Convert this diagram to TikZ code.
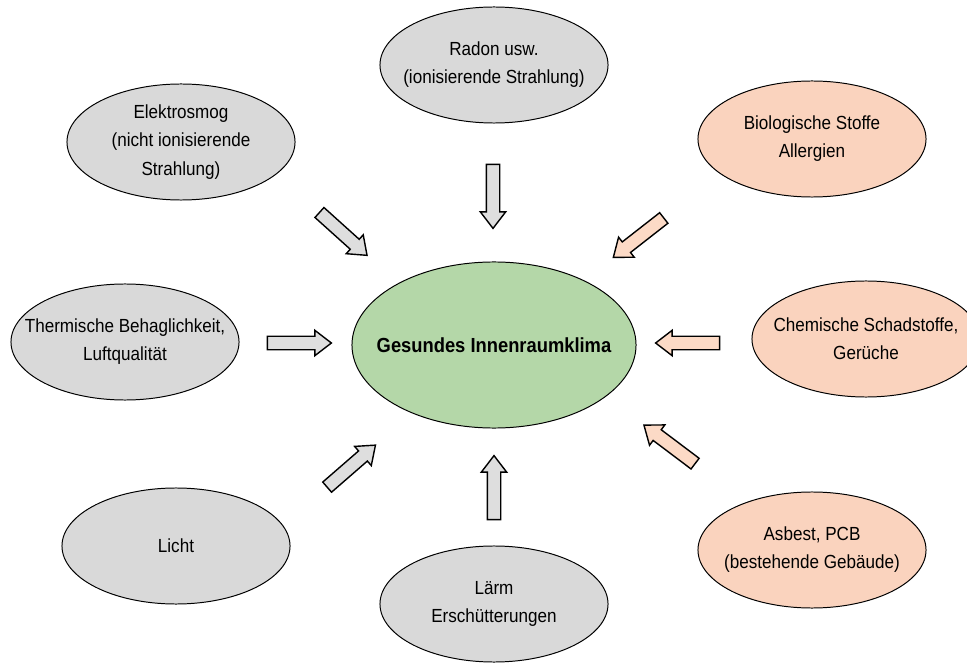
\documentclass[tikz,border=0pt]{standalone}
\usepackage{fontspec}
\setmainfont{Liberation Sans}[FakeStretch=0.9]
\usetikzlibrary{shapes.geometric, shapes.arrows}

\definecolor{grau}{HTML}{D9D9D9}
\definecolor{graupfeil}{HTML}{DEDEDE}
\definecolor{lachs}{HTML}{FAD3BE}
\definecolor{lachspfeil}{HTML}{FCDAC6}
\definecolor{gruen}{HTML}{B4D7A8}

\tikzset{
  einfluss/.style={ellipse, draw, line width=0.7pt, inner sep=-1cm,
    minimum width=5.7cm, minimum height=2.9cm, align=center,
    font=\fontsize{13.5}{20}\selectfont},
  grauoval/.style={einfluss, fill=grau},
  lachsoval/.style={einfluss, fill=lachs},
  blockpfeil/.style={single arrow, draw, line width=1pt, inner sep=0.15cm,
    minimum height=1.6cm, single arrow head extend=0.15cm,
    single arrow tip angle=75, fill=graupfeil},
  lachsblockpfeil/.style={blockpfeil, fill=lachspfeil}
}

\begin{document}
\begin{tikzpicture}[x=0.025cm, y=-0.025cm]
    \useasboundingbox (0,0) rectangle (967,669);
    % Mitte
    \node (mitte) at (494,345) [ellipse, draw, line width=0.7pt, fill=gruen,
      inner sep=-1cm, minimum width=7.1cm, minimum height=4.15cm,
      font=\fontsize{14.5}{17}\selectfont\bfseries] {Gesundes Innenraumklima};
    % Einflussfaktoren
    \node (radon) at (494,65) [grauoval] {Radon usw.\\(ionisierende Strahlung)};
    \node (elektro) at (181,142) [grauoval] {Elektrosmog\\(nicht ionisierende\\Strahlung)};
    \node (thermik) at (125,342) [grauoval] {Thermische Behaglichkeit,\\Luftqualit\"at};
    \node (licht) at (176,546) [grauoval] {Licht};
    \node (laerm) at (494,604) [grauoval] {L\"arm\\Ersch\"utterungen};
    \node (bio) at (812,139) [lachsoval] {Biologische Stoffe\\Allergien};
    \node (chemie) at (866,339) [lachsoval] {Chemische Schadstoffe,\\Ger\"uche};
    \node (asbest) at (812,550) [lachsoval] {Asbest, PCB\\(bestehende Geb\"aude)};
    % Pfeile
    \node (pradon) at (493,192) [blockpfeil, rotate=-90] {};
    \node (pelektro) at (340,231) [blockpfeil, rotate=-42] {};
    \node (pthermik) at (295,343) [blockpfeil] {};
    \node (plicht) at (348,469) [blockpfeil, rotate=41] {};
    \node (plaerm) at (494,492) [blockpfeil, rotate=90] {};
    \node (pbio) at (642,235) [lachsblockpfeil, rotate=-142] {};
    \node (pchemie) at (692,343) [lachsblockpfeil, rotate=180] {};
    \node (pasbest) at (673,447) [lachsblockpfeil, rotate=143] {};
\end{tikzpicture}
\end{document}
